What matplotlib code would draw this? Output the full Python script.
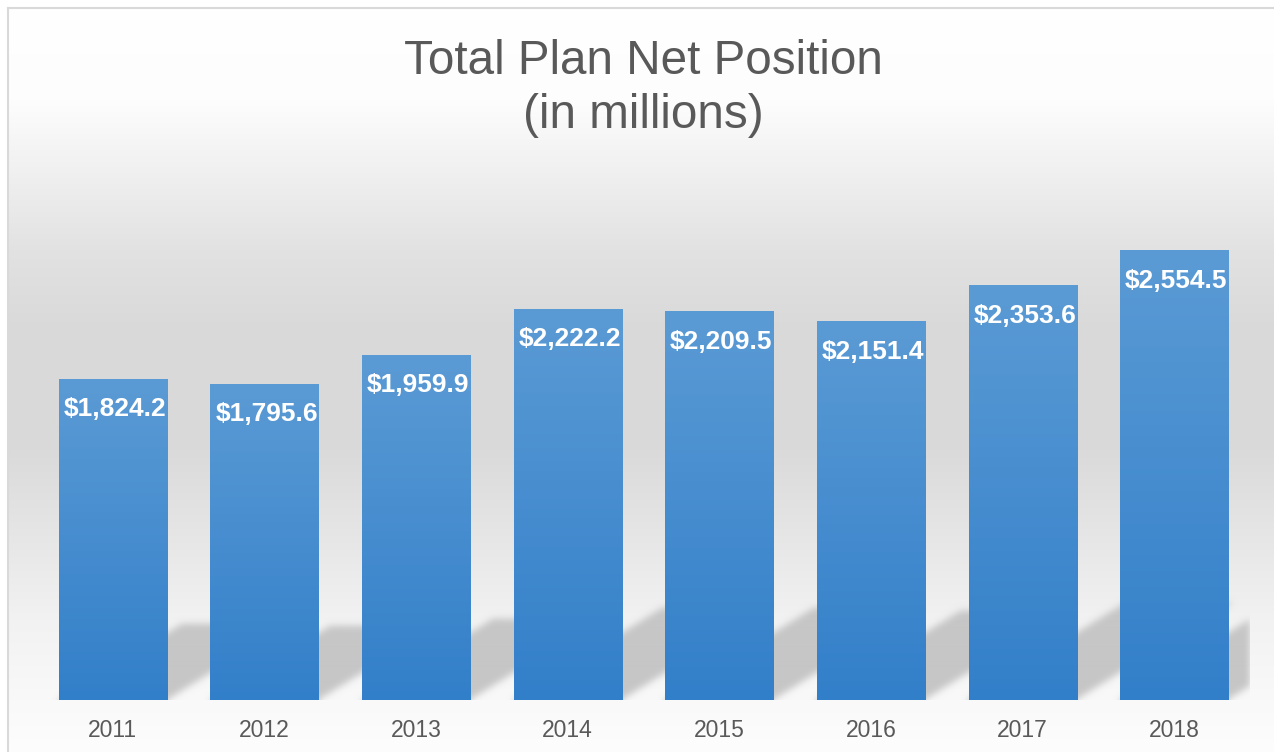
import numpy as np
import matplotlib.pyplot as plt

plt.rcParams['font.family'] = ['Liberation Sans', 'DejaVu Sans']

years = ['2011', '2012', '2013', '2014', '2015', '2016', '2017', '2018']
values = [1824.2, 1795.6, 1959.9, 2222.2, 2209.5, 2151.4, 2353.6, 2554.5]
value_labels = ['$1,824.2', '$1,795.6', '$1,959.9', '$2,222.2',
                '$2,209.5', '$2,151.4', '$2,353.6', '$2,554.5']

TEXT_GRAY = '#595959'
BAR_TOP = np.array([91, 155, 213]) / 255
BAR_BOTTOM = np.array([50, 127, 201]) / 255
BAR_WIDTH = 0.713
Y_MAX = 3000

W, H = 1274, 752
fig = plt.figure(figsize=(W / 100, H / 100), dpi=100)
fig.patch.set_facecolor('white')

# chart area background: vertical gray gradient
bg = fig.add_axes([8 / W, 0, 1 - 8 / W, (H - 8) / H])
stops_y = [8, 100, 150, 250, 330, 450, 550, 620, 700, 752]
stops_g = [255, 253, 244, 226, 217, 218, 232, 242, 249, 253]
rows = np.arange(8, H)
gray = np.interp(rows, stops_y, stops_g) / 255
bg.imshow(np.repeat(gray[:, None, None], 3, axis=2), aspect='auto',
          extent=[0, 1, 0, 1], origin='upper', interpolation='bilinear')
bg.set_xticks([])
bg.set_yticks([])
for side in ['right', 'bottom']:
    bg.spines[side].set_visible(False)
for side in ['left', 'top']:
    bg.spines[side].set_color('#d9d9d9')
    bg.spines[side].set_linewidth(1.5)

ax_px = (37, 52, 1250 - 37, 700 - 171.5)
ax = fig.add_axes([ax_px[0] / W, ax_px[1] / H, ax_px[2] / W, ax_px[3] / H])
ax.set_facecolor('none')
x = np.arange(len(years))

# perspective shadows cast behind the bars (skewed, squashed, blurred)
ppx = ax_px[2] / len(years)   # pixels per category
ppy = ax_px[3] / Y_MAX        # pixels per value unit
sh_scale = 0.236              # shadow height / bar height
sh_slope = 0.62               # rise over run of shadow sides, in pixels
xs = np.linspace(-0.5, len(years) - 0.5, int(ax_px[2]))
ys = np.linspace(-150, 900, int(1050 * ppy))
X, Y = np.meshgrid(xs, ys)
mask = np.zeros_like(X)
for xi, v in zip(x, values):
    xl, xr = xi - BAR_WIDTH / 2, xi + BAR_WIDTH / 2
    shift = (np.clip(Y, 0, None) * ppy / sh_slope) / ppx
    cond = (Y <= sh_scale * v) & (X >= xl + shift) & (X <= xr + shift)
    mask[cond] = 1.0


def gauss(sig):
    n = int(sig * 3)
    t = np.arange(-n, n + 1)
    k = np.exp(-0.5 * (t / sig) ** 2)
    return k / k.sum()


k = gauss(3.5)
mask = np.apply_along_axis(lambda r: np.convolve(r, k, mode='same'), 1, mask)
mask = np.apply_along_axis(lambda c: np.convolve(c, k, mode='same'), 0, mask)
shadow = np.full(mask.shape + (4,), 198 / 255)
shadow[..., 3] = mask
ax.imshow(shadow, origin='lower', aspect='auto', interpolation='bilinear',
          extent=[xs[0], xs[-1], ys[0], ys[-1]], zorder=1)

# bars with vertical gradient fill
bars = ax.bar(x, values, width=BAR_WIDTH, color=BAR_TOP, zorder=2, linewidth=0)
t = np.linspace(0, 1, 256)[:, None]
grad = BAR_BOTTOM + (BAR_TOP - BAR_BOTTOM) * t
for b, v in zip(bars, values):
    im = ax.imshow(grad[:, None, :], origin='lower', aspect='auto',
                   extent=[b.get_x(), b.get_x() + b.get_width(), 0, v], zorder=3)
    im.set_clip_path(b)

for xi, v, lab in zip(x, values, value_labels):
    ax.annotate(lab, (xi, v), xytext=(1.5, -13.5), textcoords='offset points',
                ha='center', va='top', color='white', fontsize=19,
                fontweight='bold', zorder=4)

ax.set_xlim(-0.5, len(years) - 0.5)
ax.set_ylim(0, Y_MAX)
ax.set_yticks([])
ax.set_xticks(x)
ax.set_xticklabels(years, fontsize=16.5, color=TEXT_GRAY)
ax.tick_params(axis='x', length=0, pad=14)
for s in ax.spines.values():
    s.set_visible(False)

fig.text(643 / W, 1 - 61 / H, 'Total Plan Net Position', ha='center', va='center',
         fontsize=34.3, color=TEXT_GRAY)
fig.text(643 / W, 1 - 115 / H, '(in millions)', ha='center', va='center',
         fontsize=34.3, color=TEXT_GRAY)

fig.savefig('out.png', dpi=100)
